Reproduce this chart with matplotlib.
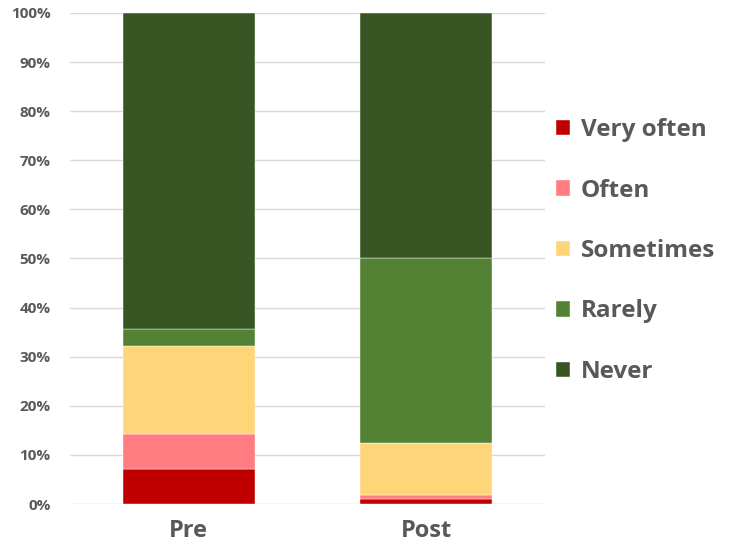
import matplotlib
matplotlib.use("Agg")
import matplotlib.pyplot as plt
import numpy as np

categories = ["Pre", "Post"]
series = ["Very often", "Often", "Sometimes", "Rarely", "Never"]
very_often = [7.1, 1.0]
often = [7.1, 0.9]
sometimes = [17.9, 10.6]
rarely = [3.6, 37.5]
never = [64.3, 50.0]
colors = ["#C00000", "#FF7C80", "#FFD579", "#548235", "#375623"]

plt.rcParams["font.family"] = ["Open Sans", "DejaVu Sans"]
grey = "#595959"

fig = plt.figure(figsize=(7.32, 5.53), dpi=100)
ax = fig.add_axes([0.0956, 0.0886, 0.649, 0.888])

x = np.arange(len(categories))
bottom = np.zeros(len(categories))
handles = []
for name, vals, c in zip(series, [very_often, often, sometimes, rarely, never], colors):
    b = ax.bar(x, vals, width=0.555, bottom=bottom, color=c, label=name,
               edgecolor="white", linewidth=0.3, zorder=3)
    handles.append(b)
    bottom += np.array(vals)

ax.set_xlim(-0.5, 1.5)
ax.set_ylim(0, 100)
ax.set_yticks(np.arange(0, 101, 10))
ax.set_yticklabels([f"{v}%" for v in range(0, 101, 10)])
ax.set_xticks(x)
ax.set_xticklabels(categories)
ax.grid(axis="y", color="#d9d9d9", linewidth=1, zorder=0)
for s in ax.spines.values():
    s.set_visible(False)
ax.tick_params(axis="both", length=0)
ax.tick_params(axis="y", labelsize=11, labelcolor=grey, pad=14)
ax.tick_params(axis="x", labelsize=17, labelcolor=grey, pad=11)
for t in ax.get_yticklabels() + ax.get_xticklabels():
    t.set_fontweight("bold")

leg = fig.legend(handles=handles, labels=series, loc="upper left",
                 bbox_to_anchor=(0.729, 0.826), frameon=False,
                 handlelength=0.6, handleheight=0.6, handletextpad=0.45,
                 labelspacing=1.5, prop={"size": 17.5, "weight": "bold"})
for t in leg.get_texts():
    t.set_color(grey)

fig.savefig("out.png", dpi=100)
